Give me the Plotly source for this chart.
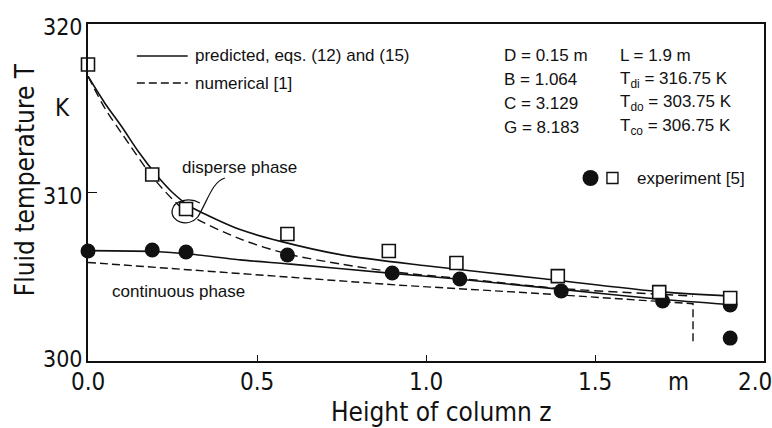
import plotly.graph_objects as go

# ---------------- data ----------------
# experiment [5]: disperse phase (open squares)
z_sq = [0.0, 0.19, 0.29, 0.59, 0.89, 1.09, 1.39, 1.69, 1.90]
T_sq = [317.6, 311.07, 309.02, 307.54, 306.53, 305.82, 305.04, 304.09, 303.74]

# experiment [5]: continuous phase (filled circles)
z_ci = [0.0, 0.19, 0.29, 0.59, 0.90, 1.10, 1.40, 1.70, 1.90, 1.90]
T_ci = [306.53, 306.59, 306.47, 306.29, 305.22, 304.87, 304.15, 303.56, 303.32, 301.36]

# predicted, eqs. (12) and (15): disperse phase
z_pd = [0.0, 0.05, 0.10, 0.15, 0.20, 0.25, 0.30, 0.38, 0.45, 0.57, 0.75, 1.00, 1.34, 1.70, 1.90]
T_pd = [316.9, 315.3, 313.9, 312.4, 311.1, 310.0, 309.2, 308.4, 307.8, 307.1, 306.3, 305.65, 304.9, 304.1, 303.85]

# numerical [1]: disperse phase
z_nd = [0.0, 0.05, 0.10, 0.20, 0.30, 0.45, 0.59, 0.75, 0.90, 1.10, 1.40, 1.70, 1.79]
T_nd = [316.9, 315.0, 313.5, 310.7, 308.7, 307.25, 306.35, 305.75, 305.3, 304.9, 304.3, 303.95, 303.85]

# predicted: continuous phase
z_pc = [0.0, 0.20, 0.30, 0.45, 0.60, 0.90, 1.10, 1.40, 1.70, 1.90]
T_pc = [306.55, 306.5, 306.35, 306.0, 305.75, 305.2, 304.85, 304.25, 303.65, 303.35]

# numerical [1]: continuous phase
z_nc = [0.0, 0.45, 0.92, 1.34, 1.70, 1.79, 1.79]
T_nc = [305.85, 305.2, 304.5, 304.0, 303.5, 303.4, 301.0]

x_ticks = [0.0, 0.5, 1.0, 1.5, 2.0]
x_ticktext = ["0.0", "0.5", "1.0", "1.5", "2.0"]
y_ticks = [300, 310, 320]
y_ticktext = ["300", "310", "320"]

legend_texts = ["predicted, eqs. (12) and (15)", "numerical [1]"]
params_left = ["D = 0.15 m", "B = 1.064", "C = 3.129", "G = 8.183"]
params_right = ["L = 1.9 m", "T<sub>di</sub> = 316.75 K",
                "T<sub>do</sub> = 303.75 K", "T<sub>co</sub> = 306.75 K"]

# ---------------- layout geometry ----------------
W, H = 772, 428
L_M, T_M, PW, PH = 88, 24, 678, 337
R_M = W - L_M - PW
B_M = H - T_M - PH

def px(xpix):
    return (xpix - L_M) / PW

def py(ypix):
    return (T_M + PH - ypix) / PH

TICK_FONT = "DejaVu Sans Condensed, DejaVu Sans, sans-serif"
TEXT_FONT = "Liberation Sans, Arial, Helvetica, sans-serif"
BLACK = "#111111"
TXT = 17

fig = go.Figure()

line_w = 1.6
dash_pat = "8px,4px"
fig.add_trace(go.Scatter(x=z_nc, y=T_nc, mode="lines",
                         line=dict(color=BLACK, width=1.4, dash=dash_pat),
                         hoverinfo="skip"))
fig.add_trace(go.Scatter(x=z_pc, y=T_pc, mode="lines",
                         line=dict(color=BLACK, width=line_w, shape="spline", smoothing=0.6),
                         hoverinfo="skip"))
fig.add_trace(go.Scatter(x=z_nd, y=T_nd, mode="lines",
                         line=dict(color=BLACK, width=1.4, dash="9px,5px", shape="spline", smoothing=0.8),
                         hoverinfo="skip"))
fig.add_trace(go.Scatter(x=z_pd, y=T_pd, mode="lines",
                         line=dict(color=BLACK, width=line_w, shape="spline", smoothing=0.8),
                         hoverinfo="skip"))
fig.add_trace(go.Scatter(x=z_ci, y=T_ci, mode="markers",
                         marker=dict(symbol="circle", size=15, color=BLACK,
                                     line=dict(width=0)),
                         cliponaxis=False, hoverinfo="skip"))
fig.add_trace(go.Scatter(x=z_sq, y=T_sq, mode="markers",
                         marker=dict(symbol="square", size=13, color="white",
                                     line=dict(width=1.6, color=BLACK)),
                         cliponaxis=False, hoverinfo="skip"))

annotations = []
shapes = []

def text(xpix, ypix, s, size=TXT, family=TEXT_FONT, anchor="left", **kw):
    annotations.append(dict(x=px(xpix), y=py(ypix), xref="paper", yref="paper",
                            text=s, showarrow=False, xanchor=anchor, yanchor="middle",
                            font=dict(family=family, size=size, color=BLACK), **kw))

# tick labels (drawn through the axis scales)
for v, s in zip(y_ticks, y_ticktext):
    annotations.append(dict(x=px(85), y=v, xref="paper", yref="y", text=s,
                            showarrow=False, xanchor="right", yanchor="middle",
                            yshift=-3 if v != y_ticks[0] else 2,
                            font=dict(family=TICK_FONT, size=23, color=BLACK)))
for v, s in zip(x_ticks, x_ticktext):
    annotations.append(dict(x=v, y=py(382), xref="x", yref="paper", text=s,
                            showarrow=False, xanchor="center", yanchor="middle",
                            xshift=-9 if v == x_ticks[-1] else 0,
                            font=dict(family=TICK_FONT, size=24, color=BLACK)))

# legend of the lines
shapes.append(dict(type="line", xref="paper", yref="paper",
                   x0=px(137), x1=px(188), y0=py(56), y1=py(56),
                   line=dict(color=BLACK, width=line_w)))
shapes.append(dict(type="line", xref="paper", yref="paper",
                   x0=px(137), x1=px(188), y0=py(83), y1=py(83),
                   line=dict(color=BLACK, width=1.4, dash=dash_pat)))
text(193, 56, legend_texts[0])
text(193, 83, legend_texts[1])

for i, s in enumerate(params_left):
    text(503, 56 + 23.7 * i, s)
for i, s in enumerate(params_right):
    text(620, 56 + 23.7 * i, s)

# experiment legend
shapes.append(dict(type="circle", xref="paper", yref="paper",
                   xsizemode="pixel", ysizemode="pixel",
                   xanchor=px(592), yanchor=py(178),
                   x0=-8, x1=8, y0=-8, y1=8,
                   fillcolor=BLACK, line=dict(width=0)))
shapes.append(dict(type="rect", xref="paper", yref="paper",
                   xsizemode="pixel", ysizemode="pixel",
                   xanchor=px(614), yanchor=py(178),
                   x0=-5.5, x1=5.5, y0=-5.5, y1=5.5,
                   fillcolor="white", line=dict(width=1.4, color=BLACK)))
text(637, 178, "experiment [5]")

text(180, 167, "disperse phase")
text(110, 291, "continuous phase")

# lasso leader from "disperse phase" to the data
shapes.append(dict(type="path", xref="x", yref="y",
                   path="M 0.405,310.86 C 0.367,310.62 0.355,309.55 0.325,308.55 "
                        "C 0.296,307.89 0.243,308.25 0.249,308.96 "
                        "C 0.254,309.55 0.302,309.73 0.331,309.38",
                   line=dict(color=BLACK, width=1.2)))

# unit labels and axis titles
text(62, 108, "K", size=24, family=TICK_FONT, anchor="center")
text(680, 382, "m", size=24, family=TICK_FONT, anchor="center")
text(443, 412, "Height of column z", size=26, family=TICK_FONT, anchor="center")
annotations.append(dict(x=px(25), y=py(180), xref="paper", yref="paper",
                        text="Fluid temperature T", showarrow=False, textangle=-90,
                        xanchor="center", yanchor="middle",
                        font=dict(family=TICK_FONT, size=26, color=BLACK)))

fig.update_layout(
    width=W, height=H,
    margin=dict(l=L_M, r=R_M, t=T_M, b=B_M, pad=0),
    paper_bgcolor="white", plot_bgcolor="white",
    showlegend=False,
    annotations=annotations, shapes=shapes,
    xaxis=dict(range=[0, 2.0], tickvals=x_ticks, showticklabels=False,
               ticks="inside", ticklen=6, tickwidth=1.3, tickcolor=BLACK,
               showline=True, linecolor=BLACK, linewidth=1.5, mirror=True,
               showgrid=False, zeroline=False),
    yaxis=dict(range=[300, 320], tickvals=y_ticks, showticklabels=False,
               ticks="inside", ticklen=9, tickwidth=1.3, tickcolor=BLACK,
               showline=True, linecolor=BLACK, linewidth=1.5, mirror=True,
               showgrid=False, zeroline=False),
)

fig.write_html("out.html")
